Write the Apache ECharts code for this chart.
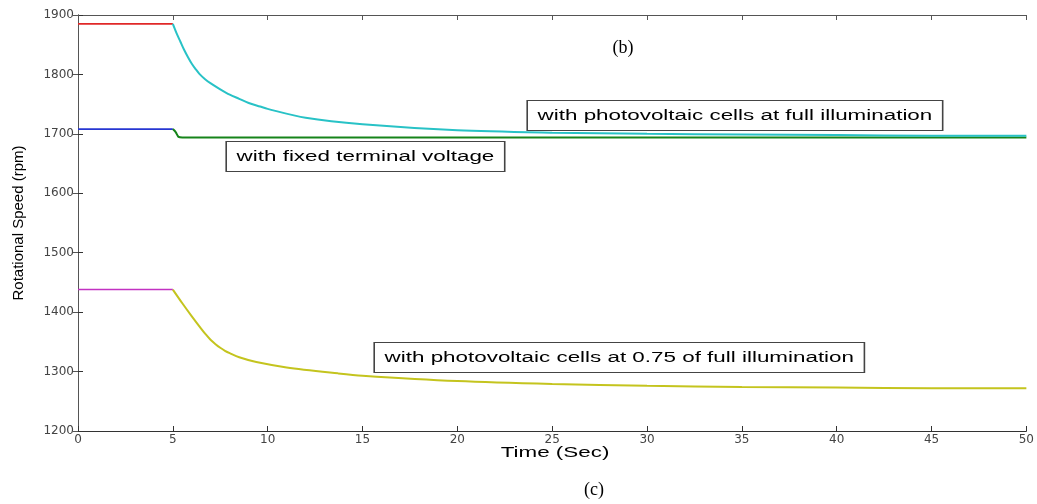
<!DOCTYPE html>
<html>
<head>
<meta charset="utf-8">
<script src="https://cdn.jsdelivr.net/npm/echarts@6/dist/echarts.min.js"></script>
<style>
html,body{margin:0;padding:0;background:#fff;}
#chart{width:1037px;height:504px;}
</style>
</head>
<body>
<div id="chart"></div>
<script>
// ---- data (time in s, speed in rpm) ----
const flatTime = [0, 5];
const redVals = [1885, 1885];          // before step, full illumination
const blueVals = [1708, 1708];         // before step, fixed terminal voltage
const magentaVals = [1438, 1438];      // before step, 0.75 illumination

const cyanTime = [5, 5.2, 5.4, 5.6, 5.8, 6, 6.2, 6.4, 6.7, 7, 7.5, 8, 8.5, 9, 9.6, 10, 12, 15, 20, 25, 30, 35, 40, 45, 50];
const cyanVals = [1885, 1869, 1855, 1841, 1829, 1818, 1809, 1801, 1792, 1785, 1775, 1766, 1759, 1752, 1746, 1742, 1727, 1716, 1706, 1702, 1700, 1699, 1698, 1697, 1697];

const greenTime = [5, 5.15, 5.3, 5.5, 10, 20, 30, 40, 50];
const greenVals = [1708, 1703, 1695, 1694, 1694, 1694, 1694, 1694, 1694];

const yellowTime = [5, 5.5, 6, 6.5, 6.75, 7, 7.25, 7.5, 7.75, 8, 8.5, 9.4, 11, 13.7, 15, 20, 25, 30, 35, 40, 45, 50];
const yellowVals = [1438, 1415, 1393, 1372, 1362, 1353, 1346, 1340, 1335, 1331, 1324, 1316, 1307, 1297, 1293, 1284, 1279, 1276, 1274, 1273, 1272, 1272];

const xName = 'Time (Sec)';
const yName = 'Rotational Speed (rpm)';
const notes = [
  'with photovoltaic cells at full illumination',
  'with fixed terminal voltage',
  'with photovoltaic cells at 0.75 of full illumination'
];

const pairs = (t, v) => t.map((x, i) => [x, v[i]]);

const chart = echarts.init(document.getElementById('chart'));
const axisCol = '#333';
const tickLabel = { fontFamily: 'DejaVu Sans', fontSize: 12, color: '#444', formatter: v => String(v) };

function line(name, t, v, color, w, z) {
  return {
    name, type: 'line', data: pairs(t, v), showSymbol: false, symbol: 'none',
    smooth: 0.3,
    lineStyle: { color, width: w }, z: z || 2, animation: false
  };
}

const boxStyle = (text) => ({
  text, font: '14px "Liberation Sans", Arial', fill: '#000',
  backgroundColor: '#fff', borderColor: '#444', borderWidth: 1,
  padding: [7, 6, 6, 6], lineHeight: 16
});

chart.setOption({
  animation: false,
  backgroundColor: '#fff',
  grid: { left: 78, right: 5, top: 15, bottom: 73, containLabel: false },
  xAxis: [
    { type: 'value', min: 0, max: 50, interval: 5,
      axisLine: { show: true, lineStyle: { color: axisCol, width: 1 } },
      axisTick: { show: true, inside: true, length: 5, lineStyle: { color: axisCol } },
      axisLabel: Object.assign({ margin: 3 }, tickLabel),
      splitLine: { show: false } },
    { type: 'value', position: 'top', min: 0, max: 50, interval: 5,
      axisLine: { show: true, lineStyle: { color: '#555', width: 1 } },
      axisTick: { show: true, inside: true, length: 5, lineStyle: { color: '#555' } },
      axisLabel: { show: false }, splitLine: { show: false } }
  ],
  yAxis: [
    { type: 'value', min: 1200, max: 1900, interval: 100,
      name: yName, nameLocation: 'middle', nameGap: 52,
      nameTextStyle: { fontFamily: '"Liberation Sans", Arial', fontSize: 15, color: '#000' },
      axisLine: { show: true, lineStyle: { color: axisCol, width: 1 } },
      axisTick: { show: true, inside: true, length: 5, lineStyle: { color: axisCol } },
      axisLabel: Object.assign({ margin: 4 }, tickLabel),
      splitLine: { show: false } },
    { type: 'value', position: 'right', min: 1200, max: 1900, interval: 100,
      axisLine: { show: true, lineStyle: { color: '#555', width: 1 } },
      axisTick: { show: true, inside: true, length: 5, lineStyle: { color: '#555' } },
      axisLabel: { show: false }, splitLine: { show: false } }
  ],
  series: [
    line('red', flatTime, redVals, '#e02828', 1.6),
    line('blue', flatTime, blueVals, '#2636d2', 1.6),
    line('magenta', flatTime, magentaVals, '#c232c2', 1.6),
    line('green', greenTime, greenVals, '#16841a', 2, 2),
    line('cyan', cyanTime, cyanVals, '#28c2c6', 2, 3),
    line('yellow', yellowTime, yellowVals, '#c4c41e', 2, 3)
  ],
  graphic: [
    { type: 'text', x: 528, y: 101, scaleX: 1.6, style: boxStyle(notes[0]), z: 10 },
    { type: 'text', x: 227, y: 142, scaleX: 1.6, style: boxStyle(notes[1]), z: 10 },
    { type: 'text', x: 375, y: 343, scaleX: 1.6, style: boxStyle(notes[2]), z: 10 },
    { type: 'text', x: 555, y: 453, scaleX: 1.6,
      style: { text: xName, font: '14px "Liberation Sans", Arial', fill: '#000', align: 'center', verticalAlign: 'middle' } },
    { type: 'text', x: 623, y: 48,
      style: { text: '(b)', font: '18px "Liberation Serif", "Times New Roman", serif', fill: '#000', align: 'center', verticalAlign: 'middle' } },
    { type: 'text', x: 594, y: 490,
      style: { text: '(c)', font: '18px "Liberation Serif", "Times New Roman", serif', fill: '#000', align: 'center', verticalAlign: 'middle' } }
  ]
});
</script>
</body>
</html>
